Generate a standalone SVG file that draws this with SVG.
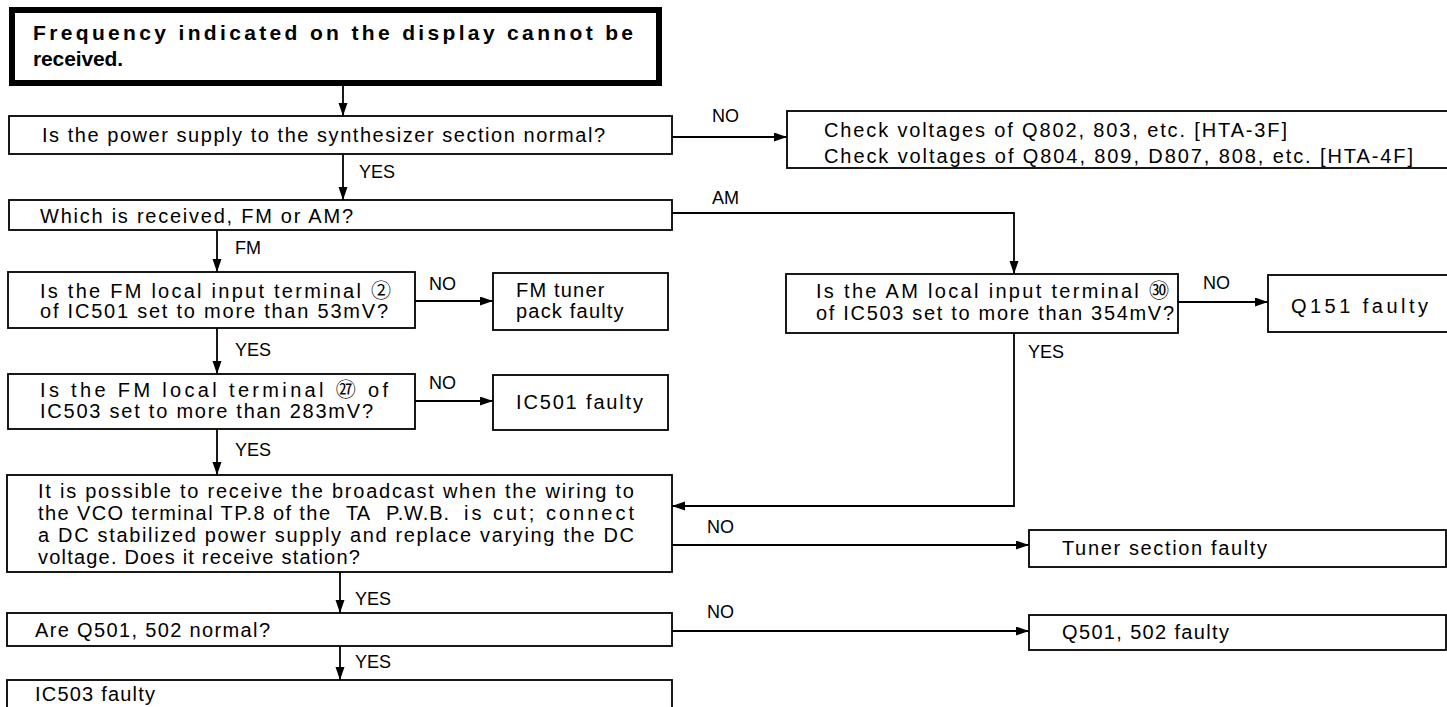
<svg xmlns="http://www.w3.org/2000/svg" width="1447" height="707" viewBox="0 0 1447 707">
<style>
.box{fill:#fff;stroke:#000;stroke-width:1.8}
.tbox{fill:#fff;stroke:#000;stroke-width:6}
.ln{fill:none;stroke:#000;stroke-width:1.8}
text{font-family:"Liberation Sans",Arial,"Noto Sans CJK JP",sans-serif;font-size:20px;fill:#000}
.b{font-weight:bold;font-size:21px}
.lb{font-size:18px}
.sp{letter-spacing:1.2px}
</style>
<defs>
<marker id="ah" markerUnits="userSpaceOnUse" markerWidth="14" markerHeight="10" refX="13" refY="4.5" orient="auto">
<path d="M0,0 L13,4.5 L0,9 z" fill="#000"/>
</marker>
</defs>
<rect width="1447" height="707" fill="#fff"/>

<g id="connectors">
<line class="ln" x1="343" y1="86" x2="343" y2="116" marker-end="url(#ah)"/>
<line class="ln" x1="672" y1="137" x2="787" y2="137" marker-end="url(#ah)"/>
<line class="ln" x1="343" y1="154" x2="343" y2="200" marker-end="url(#ah)"/>
<polyline class="ln" points="672,213 1014,213 1014,274" marker-end="url(#ah)"/>
<line class="ln" x1="217" y1="230" x2="217" y2="272" marker-end="url(#ah)"/>
<line class="ln" x1="415" y1="301" x2="493" y2="301" marker-end="url(#ah)"/>
<line class="ln" x1="217" y1="328" x2="217" y2="374" marker-end="url(#ah)"/>
<line class="ln" x1="415" y1="401" x2="493" y2="401" marker-end="url(#ah)"/>
<line class="ln" x1="217" y1="429" x2="217" y2="475" marker-end="url(#ah)"/>
<line class="ln" x1="1178" y1="302" x2="1268" y2="302" marker-end="url(#ah)"/>
<polyline class="ln" points="1014,333 1014,506 672,506" marker-end="url(#ah)"/>
<line class="ln" x1="672" y1="545" x2="1029" y2="545" marker-end="url(#ah)"/>
<line class="ln" x1="340" y1="572" x2="340" y2="613" marker-end="url(#ah)"/>
<line class="ln" x1="672" y1="631" x2="1029" y2="631" marker-end="url(#ah)"/>
<line class="ln" x1="340" y1="646" x2="340" y2="680" marker-end="url(#ah)"/>
<text class="lb" x="712" y="122">NO</text>
<text class="lb" x="359" y="178">YES</text>
<text class="lb" x="712" y="204">AM</text>
<text class="lb" x="235" y="254">FM</text>
<text class="lb" x="429" y="290">NO</text>
<text class="lb" x="235" y="356">YES</text>
<text class="lb" x="429" y="389">NO</text>
<text class="lb" x="235" y="456">YES</text>
<text class="lb" x="1203" y="289">NO</text>
<text class="lb" x="1028" y="358">YES</text>
<text class="lb" x="707" y="533">NO</text>
<text class="lb" x="355" y="605">YES</text>
<text class="lb" x="707" y="618">NO</text>
<text class="lb" x="355" y="668">YES</text>
</g>

<g id="start">
<rect class="tbox" x="12" y="10" width="647" height="73"/>
<text class="b" x="33" y="40" textLength="600" lengthAdjust="spacing">Frequency indicated on the display cannot be</text>
<text class="b" x="33" y="66" textLength="90" lengthAdjust="spacing">received.</text>
</g>

<g id="q-power">
<rect class="box" x="9" y="116" width="663" height="38"/>
<text x="42" y="142" textLength="563" lengthAdjust="spacing">Is the power supply to the synthesizer section normal?</text>
</g>

<g id="check-voltages">
<rect class="box" x="787" y="111" width="670" height="57"/>
<text x="824" y="137" textLength="463" lengthAdjust="spacing">Check voltages of Q802, 803, etc. [HTA-3F]</text>
<text x="824" y="163" textLength="589" lengthAdjust="spacing">Check voltages of Q804, 809, D807, 808, etc. [HTA-4F]</text>
</g>

<g id="q-band">
<rect class="box" x="9" y="200" width="663" height="30"/>
<text x="40" y="223" textLength="313" lengthAdjust="spacing">Which is received, FM or AM?</text>
</g>

<g id="q-fm-input">
<rect class="box" x="8" y="272" width="407" height="56"/>
<text x="40" y="298" textLength="351" lengthAdjust="spacing">Is the FM local input terminal ②</text>
<text x="40" y="318" textLength="348" lengthAdjust="spacing">of IC501 set to more than 53mV?</text>
</g>

<g id="fm-tuner-faulty">
<rect class="box" x="493" y="273" width="175" height="57"/>
<text class="sp" x="516" y="297">FM tuner</text>
<text class="sp" x="516" y="318">pack faulty</text>
</g>

<g id="q-fm-local">
<rect class="box" x="8" y="374" width="407" height="55"/>
<text x="40" y="397" textLength="348" lengthAdjust="spacing">Is the FM local terminal ㉗ of</text>
<text x="40" y="418" textLength="333" lengthAdjust="spacing">IC503 set to more than 283mV?</text>
</g>

<g id="ic501-faulty">
<rect class="box" x="493" y="375" width="175" height="55"/>
<text x="516" y="409" textLength="127" lengthAdjust="spacing">IC501  faulty</text>
</g>

<g id="q-am-input">
<rect class="box" x="786" y="274" width="392" height="59"/>
<text x="816" y="298" textLength="353" lengthAdjust="spacing">Is the AM local input terminal ㉚</text>
<text x="816" y="320" textLength="358" lengthAdjust="spacing">of IC503 set to more than 354mV?</text>
</g>

<g id="q151-faulty">
<rect class="box" x="1268" y="275" width="190" height="57"/>
<text x="1291" y="313" textLength="137" lengthAdjust="spacing">Q151 faulty</text>
</g>

<g id="q-vco">
<rect class="box" x="7" y="475" width="665" height="97"/>
<text x="38" y="498" textLength="596" lengthAdjust="spacing">It is possible to receive the broadcast when the wiring to</text>
<text y="520"><tspan x="38" textLength="292" lengthAdjust="spacing">the VCO terminal TP.8 of the</tspan><tspan x="346">TA</tspan><tspan x="386" textLength="63" lengthAdjust="spacing">P.W.B.</tspan><tspan x="464" textLength="170" lengthAdjust="spacing">is cut; connect</tspan></text>
<text x="38" y="542" textLength="596" lengthAdjust="spacing">a DC stabilized power supply and replace varying the DC</text>
<text class="sp" x="38" y="564">voltage. Does it receive station?</text>
</g>

<g id="tuner-faulty">
<rect class="box" x="1029" y="530" width="417" height="37"/>
<text x="1062" y="555" textLength="205" lengthAdjust="spacing">Tuner section faulty</text>
</g>

<g id="q-q501">
<rect class="box" x="7" y="613" width="665" height="33"/>
<text x="35" y="637" textLength="235" lengthAdjust="spacing">Are Q501, 502 normal?</text>
</g>

<g id="q501-faulty">
<rect class="box" x="1029" y="615" width="417" height="35"/>
<text x="1062" y="639" textLength="167" lengthAdjust="spacing">Q501, 502 faulty</text>
</g>

<g id="ic503-faulty">
<rect class="box" x="7" y="680" width="665" height="40"/>
<text x="35" y="701" textLength="120" lengthAdjust="spacing">IC503 faulty</text>
</g>
</svg>
